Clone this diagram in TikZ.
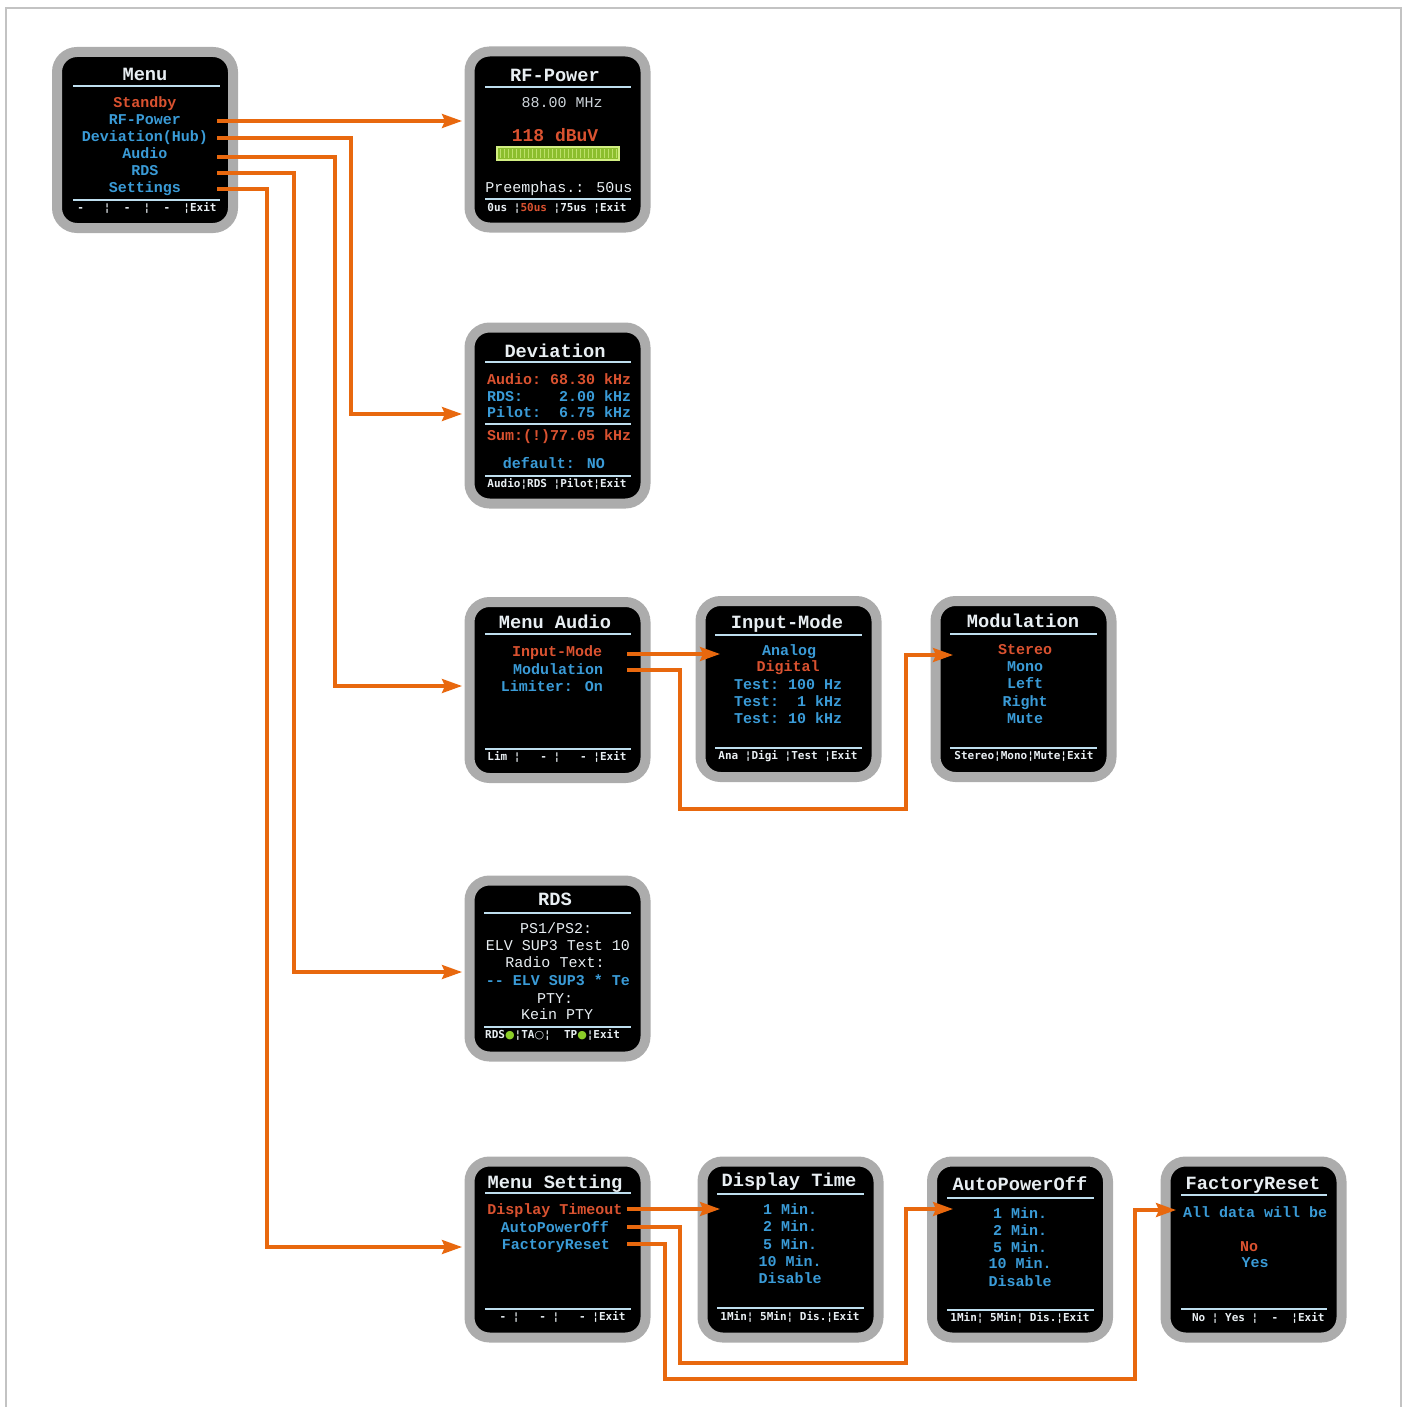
\documentclass[tikz,border=0pt]{standalone}
\usepackage{fontspec}
\usetikzlibrary{arrows.meta}
\newfontfamily\lmono{Liberation Mono}
\newfontfamily\dmono{DejaVu Sans Mono}
\newfontfamily\dsans{DejaVu Sans}
\definecolor{scrgray}{RGB}{172,172,172}
\definecolor{scrblue}{RGB}{58,155,215}
\definecolor{scrorange}{RGB}{218,82,48}
\definecolor{scrwhite}{RGB}{232,238,242}
\definecolor{scrgrey}{RGB}{205,212,218}
\definecolor{sepcol}{RGB}{190,222,238}
\definecolor{arrorange}{RGB}{232,104,14}
\definecolor{framegray}{RGB}{195,195,195}
\definecolor{bargreen}{RGB}{140,190,45}
\definecolor{barlight}{RGB}{210,238,130}
\definecolor{dotgreen}{RGB}{140,205,40}
\newcommand{\gdot}{{\dsans\textcolor{dotgreen}{●}}}
\newcommand{\wdot}{{\dsans\textcolor{scrwhite}{○}}}
\tikzset{
 screen/.style={fill=black, draw=scrgray, line width=10pt, rounded corners=20pt,
   minimum width=176pt, minimum height=176pt, inner sep=0pt},
 ttl/.style={font=\lmono\bfseries\fontsize{18.7}{19}\selectfont, text=scrwhite,
   inner sep=0pt, text height=14pt, text depth=2pt},
 itm/.style={font=\lmono\bfseries\fontsize{15}{15}\selectfont, inner sep=0pt,
   text height=12pt, text depth=2pt},
 itmr/.style={font=\lmono\fontsize{15}{15}\selectfont, inner sep=0pt,
   text height=12pt, text depth=2pt},
 bl/.style={text=scrblue}, og/.style={text=scrorange}, wh/.style={text=scrwhite},
 barlbl/.style={font=\dmono\bfseries\fontsize{11}{11}\selectfont, text=scrwhite,
   inner sep=0pt, text height=9pt, text depth=2pt},
 sepline/.style={draw=sepcol, line width=2.2pt},
 conn/.style={draw=arrorange, line width=3.2pt, line join=miter,
   -{Stealth[length=20pt,width=14pt,inset=3pt]}},
}
\begin{document}
\begin{tikzpicture}[x=1pt,y=-1pt]
\useasboundingbox (0,0) rectangle (1406,1407);
\draw[framegray, line width=2pt] (6,1410) -- (6,8) -- (1401,8) -- (1401,1410);

% ---------- screens ----------
\node[screen] (menu) at (145,140) {};
\node[screen] (rfp)  at (557.5,139.5) {};
\node[screen] (dev)  at (557.5,415.5) {};
\node[screen] (maud) at (557.5,690) {};
\node[screen] (inm)  at (788.5,689) {};
\node[screen] (modu) at (1023.5,689) {};
\node[screen] (rds)  at (557.5,968.5) {};
\node[screen] (mset) at (557.5,1249.5) {};
\node[screen] (dtim) at (790.5,1249.5) {};
\node[screen] (apo)  at (1020,1249.5) {};
\node[screen] (frs)  at (1253.5,1249.5) {};

% ---------- Menu ----------
\node[ttl] (menuT) at (145,75) {Menu};
\draw[sepline] (73,86) -- (220,86);
\node[itm,og] (mSt) at (145,103) {Standby};
\node[itm,bl] (mRF) at (145,120) {RF-Power};
\node[itm,bl] (mDv) at (145,137) {Deviation(Hub)};
\node[itm,bl] (mAu) at (145,154) {Audio};
\node[itm,bl] (mRD) at (145,171) {RDS};
\node[itm,bl] (mSe) at (145,188) {Settings};
\draw[sepline] (73,200) -- (220,200);
\node[barlbl] (menuB) at (147,208) {-~~~¦~~-~~¦~~-~~¦Exit};

% ---------- RF-Power ----------
\node[ttl] (rfpT) at (555,76) {RF-Power};
\draw[sepline] (485,87) -- (631,87);
\node[itmr,text=scrgrey] (rfF) at (562,103) {88.00 MHz};
\node[ttl,og,font=\lmono\bfseries\fontsize{18}{18}\selectfont] (rfL) at (555,136) {118 dBuV};
\draw[fill=bargreen, draw=barlight, line width=1.5pt] (497,147) rectangle (619,160);
\foreach \i in {0,...,29} {\draw[barlight!70!bargreen, line width=0.5pt] (500+\i*4,149) -- (500+\i*4,158);}
\node[itmr,wh] (rfP) at (559,188) {Preemphas.: 50us};
\draw[sepline] (485,199) -- (631,199);
\node[barlbl] (rfpB) at (557,208) {0us ¦\textcolor{scrorange}{50us}~¦75us ¦Exit};

% ---------- Deviation ----------
\node[ttl] (devT) at (555,351) {Deviation};
\draw[sepline] (485,362) -- (631,362);
\node[itm,og,anchor=west] (dA) at (487,379) {Audio:~68.30~kHz};
\node[itm,bl,anchor=west] (dR) at (487,396) {RDS:~~~~2.00~kHz};
\node[itm,bl,anchor=west] (dP) at (487,412) {Pilot:~~6.75~kHz};
\draw[sepline] (485,424) -- (631,424);
\node[itm,og,anchor=west] (dS) at (487,435) {Sum:(!)77.05~kHz};
\node[itm,bl] (dD) at (554,463) {default: NO};
\draw[sepline] (485,476) -- (631,476);
\node[barlbl] (devB) at (557,484) {Audio¦RDS ¦Pilot¦Exit};

% ---------- Menu Audio ----------
\node[ttl] (maudT) at (555,622) {Menu Audio};
\draw[sepline] (485,634) -- (631,634);
\node[itm,og] (aIn) at (557,651) {Input-Mode};
\node[itm,bl] (aMo) at (558,669) {Modulation};
\node[itm,bl] (aLi) at (552,686) {Limiter: On};
\draw[sepline] (485,749) -- (631,749);
\node[barlbl] (maudB) at (557,757) {Lim~¦~~~-~¦~~~-~¦Exit};

% ---------- Input-Mode ----------
\node[ttl] (inmT) at (787,622) {Input-Mode};
\draw[sepline] (715,635) -- (862,635);
\node[itm,bl] (iAn) at (789,650) {Analog};
\node[itm,og] (iDi) at (788,666) {Digital};
\node[itm,bl,anchor=west] (iT1) at (734,684) {Test:~100~Hz};
\node[itm,bl,anchor=west] (iT2) at (734,701) {Test:~~1~kHz};
\node[itm,bl,anchor=west] (iT3) at (734,718) {Test:~10~kHz};
\draw[sepline] (715,748) -- (862,748);
\node[barlbl] (inmB) at (788,756) {Ana ¦Digi ¦Test ¦Exit};

% ---------- Modulation ----------
\node[ttl] (moduT) at (1023,621) {Modulation};
\draw[sepline] (950,634) -- (1097,634);
\node[itm,og] (oSt) at (1025,649) {Stereo};
\node[itm,bl] (oMo) at (1025,666) {Mono};
\node[itm,bl] (oLe) at (1025,683) {Left};
\node[itm,bl] (oRi) at (1025,701) {Right};
\node[itm,bl] (oMu) at (1025,718) {Mute};
\draw[sepline] (950,748) -- (1097,748);
\node[barlbl] (moduB) at (1024,756) {Stereo¦Mono¦Mute¦Exit};

% ---------- RDS ----------
\node[ttl] (rdsT) at (555,899) {RDS};
\draw[sepline] (484,913) -- (631,913);
\node[itmr,wh] (r1) at (556,928) {PS1/PS2:};
\node[itmr,wh] (r2) at (558,945) {ELV SUP3 Test 10};
\node[itmr,wh] (r3) at (555,962) {Radio Text:};
\node[itm,bl]  (r4) at (558,980) {-- ELV SUP3 * Te};
\node[itmr,wh] (r5) at (555,998) {PTY:};
\node[itmr,wh] (r6) at (557,1014) {Kein PTY};
\draw[sepline] (484,1027) -- (631,1027);
\node[barlbl,anchor=west] (rdsB) at (485,1035) {RDS\gdot¦TA\wdot¦~~TP\gdot¦Exit};

% ---------- Menu Setting ----------
\node[ttl] (msetT) at (555,1182) {Menu Setting};
\draw[sepline] (485,1193) -- (631,1193);
\node[itm,og] (sDT) at (555,1209) {Display Timeout};
\node[itm,bl] (sAP) at (555,1227) {AutoPowerOff};
\node[itm,bl] (sFR) at (556,1244) {FactoryReset};
\draw[sepline] (485,1309) -- (631,1309);
\node[barlbl] (msetB) at (556,1317) {~~-~¦~~~-~¦~~~-~¦Exit};

% ---------- Display Time ----------
\node[ttl] (dtimT) at (789,1180) {Display Time};
\draw[sepline] (717,1194) -- (864,1194);
\node[itm,bl] (t1) at (790,1209) {1 Min.};
\node[itm,bl] (t2) at (790,1226) {2 Min.};
\node[itm,bl] (t3) at (790,1244) {5 Min.};
\node[itm,bl] (t4) at (790,1261) {10 Min.};
\node[itm,bl] (t5) at (790,1278) {Disable};
\draw[sepline] (717,1308) -- (864,1308);
\node[barlbl] (dtimB) at (790,1317) {1Min¦~5Min¦~Dis.¦Exit};

% ---------- AutoPowerOff ----------
\node[ttl] (apoT) at (1020,1184) {AutoPowerOff};
\draw[sepline] (947,1198) -- (1094,1198);
\node[itm,bl] (p1) at (1020,1213) {1 Min.};
\node[itm,bl] (p2) at (1020,1230) {2 Min.};
\node[itm,bl] (p3) at (1020,1247) {5 Min.};
\node[itm,bl] (p4) at (1020,1263) {10 Min.};
\node[itm,bl] (p5) at (1020,1281) {Disable};
\draw[sepline] (947,1310) -- (1094,1310);
\node[barlbl] (apoB) at (1020,1318) {1Min¦~5Min¦~Dis.¦Exit};

% ---------- FactoryReset ----------
\node[ttl] (frsT) at (1253,1183) {FactoryReset};
\draw[sepline] (1181,1195) -- (1327,1195);
\node[itm,bl,anchor=west] (f1) at (1183,1212) {All data will be};
\node[itm,og] (f2) at (1249,1246) {No};
\node[itm,bl] (f3) at (1255,1262) {Yes};
\draw[sepline] (1181,1309) -- (1327,1309);
\node[barlbl] (frsB) at (1255,1318) {~No~¦~Yes~¦~~-~~¦Exit};

% ---------- connectors ----------
\coordinate (sRF) at (217,121);  \coordinate (tRF) at (462,121);
\coordinate (sDV) at (217,138);  \coordinate (tDV) at (462,414);
\coordinate (sAU) at (217,157);  \coordinate (tAU) at (462,686);
\coordinate (sRD) at (217,173);  \coordinate (tRD) at (462,972);
\coordinate (sSE) at (217,189);  \coordinate (tSE) at (462,1247);
\coordinate (sIM) at (627,654);  \coordinate (tIM) at (720,654);
\coordinate (sMO) at (627,670);  \coordinate (tMO) at (953,655);
\coordinate (sDT) at (627,1209); \coordinate (tDT) at (720,1209);
\coordinate (sAP) at (627,1227); \coordinate (tAP) at (953,1209);
\coordinate (sFR) at (627,1244); \coordinate (tFR) at (1176,1210);

\draw[conn] (sRF) -- (tRF);
\draw[conn] (sDV) -- (351,138) -- (351,414) -- (tDV);
\draw[conn] (sAU) -- (335,157) -- (335,686) -- (tAU);
\draw[conn] (sRD) -- (294,173) -- (294,972) -- (tRD);
\draw[conn] (sSE) -- (267,189) -- (267,1247) -- (tSE);
\draw[conn] (sIM) -- (tIM);
\draw[conn] (sMO) -- (680,670) -- (680,809) -- (906,809) -- (906,655) -- (tMO);
\draw[conn] (sDT) -- (tDT);
\draw[conn] (sAP) -- (680,1227) -- (680,1363) -- (906,1363) -- (906,1209) -- (tAP);
\draw[conn] (sFR) -- (665,1244) -- (665,1379) -- (1135,1379) -- (1135,1210) -- (tFR);
\end{tikzpicture}
\end{document}
